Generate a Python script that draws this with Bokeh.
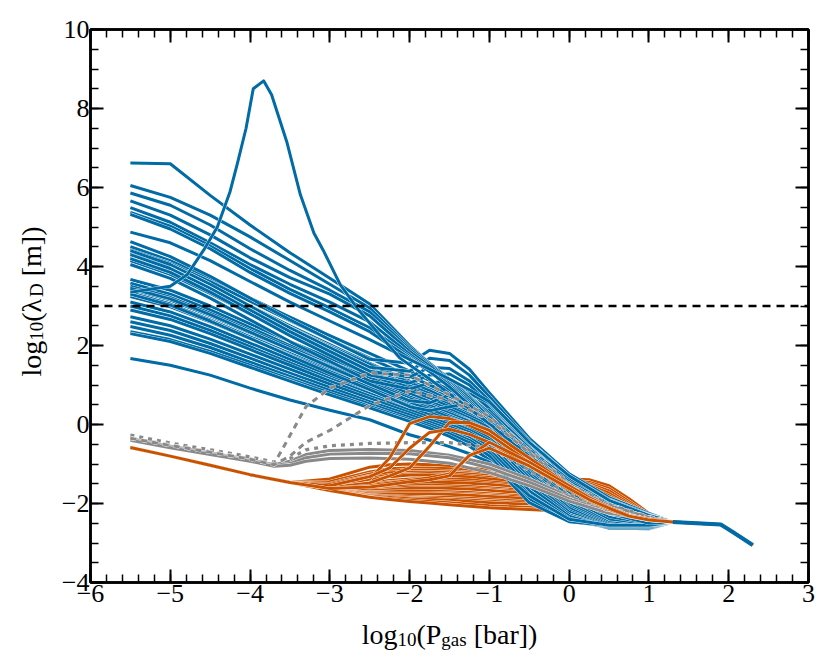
import math
from bokeh.plotting import figure
from bokeh.layouts import row, column
from bokeh.models import (Range1d, SingleIntervalTicker, LinearAxis, Label, Span,
                          CustomJSTickFormatter)
from bokeh.embed import file_html
from bokeh.resources import INLINE

# ---------------- data ----------------
X_TICKS = [-6, -5, -4, -3, -2, -1, 0, 1, 2, 3]
Y_TICKS = [-4, -2, 0, 2, 4, 6, 8, 10]
THRESHOLD = 3.0

# shared high-pressure tail
TAIL_X = [1.3, 1.6, 1.9, 2.05, 2.3]
TAIL_Y = [-2.47, -2.50, -2.53, -2.72, -3.05]

# blue curves sampled on BX
BX = [-5.5, -5.0, -4.5, -4.0, -3.5, -3.0, -2.5, -2.0, -1.75, -1.5, -1.25, -1.0, -0.5, 0.0, 0.5, 1.0]
BLUE_TOP = [
    [6.62, 6.60, 5.80, 5.05, 4.35, 3.70, 3.05, 2.00, 1.55, 1.12, 0.68, 0.25, -0.65, -1.40, -1.95, -2.30],
    [6.05, 5.75, 5.30, 4.75, 4.15, 3.55, 2.95, 1.95, 1.55, 1.15, 0.72, 0.28, -0.70, -1.45, -2.00, -2.35],
    [5.86, 5.55, 5.05, 4.45, 3.90, 3.40, 2.85, 1.90, 1.52, 1.12, 0.70, 0.22, -0.75, -1.50, -2.05, -2.40],
    [5.66, 5.30, 4.80, 4.22, 3.72, 3.30, 2.75, 1.85, 1.48, 1.08, 0.66, 0.18, -0.80, -1.55, -2.10, -2.40],
    [5.49, 5.12, 4.60, 4.05, 3.55, 3.10, 2.60, 1.78, 1.42, 1.04, 0.60, 0.10, -0.85, -1.60, -2.15, -2.45],
    [5.37, 5.02, 4.52, 3.95, 3.42, 2.95, 2.45, 1.72, 1.38, 1.00, 0.55, 0.05, -0.90, -1.65, -2.20, -2.45],
    [5.32, 4.95, 4.45, 3.85, 3.32, 2.85, 2.35, 1.68, 1.34, 0.95, 0.50, 0.00, -0.95, -1.70, -2.25, -2.50],
    [4.87, 4.60, 4.15, 3.62, 3.10, 2.62, 2.15, 1.65, 1.40, 1.15, 0.88, 0.58, -0.45, -1.30, -1.92, -2.30],
]
BLUE_BUMP = [
    [4.63, 4.25, 3.75, 3.20, 2.65, 2.15, 1.65, 1.55, 1.88, 1.80, 1.40, 0.80, -0.35, -1.25, -1.85, -2.25],
    [4.40, 4.05, 3.55, 3.00, 2.45, 1.95, 1.45, 1.35, 1.68, 1.62, 1.25, 0.70, -0.42, -1.30, -1.90, -2.28],
    [4.30, 3.95, 3.45, 2.90, 2.35, 1.85, 1.35, 1.20, 1.45, 1.42, 1.10, 0.60, -0.50, -1.35, -1.95, -2.30],
    [4.20, 3.85, 3.35, 2.80, 2.25, 1.75, 1.25, 1.05, 1.25, 1.28, 1.00, 0.50, -0.55, -1.40, -1.98, -2.32],
    [4.05, 3.70, 3.20, 2.65, 2.10, 1.60, 1.10, 0.90, 1.05, 1.10, 0.85, 0.40, -0.60, -1.45, -2.00, -2.35],
    [3.45, 3.18, 2.78, 2.34, 1.90, 1.46, 1.02, 0.60, 0.55, 0.75, 0.78, 0.55, -0.45, -1.35, -1.95, -2.32],
    [3.30, 3.02, 2.62, 2.18, 1.74, 1.30, 0.88, 0.45, 0.35, 0.45, 0.52, 0.35, -0.60, -1.45, -2.02, -2.35],
]
BLUE_MID = [
    [4.50, 4.15, 3.70, 3.20, 2.72, 2.25, 1.80, 1.35, 1.12, 0.88, 0.62, 0.35, -0.55, -1.38, -1.98, -2.33],
    [4.42, 4.08, 3.62, 3.12, 2.63, 2.15, 1.68, 1.22, 1.00, 0.78, 0.55, 0.28, -0.62, -1.45, -2.02, -2.36],
    [4.35, 4.00, 3.52, 3.00, 2.50, 2.02, 1.55, 1.10, 0.90, 0.68, 0.46, 0.20, -0.70, -1.52, -2.08, -2.40],
    [4.28, 3.92, 3.45, 2.95, 2.46, 1.98, 1.52, 1.06, 0.86, 0.62, 0.38, 0.12, -0.78, -1.60, -2.15, -2.44],
    [4.22, 3.85, 3.38, 2.86, 2.36, 1.88, 1.42, 0.98, 0.78, 0.55, 0.32, 0.05, -0.85, -1.68, -2.22, -2.48],
    [4.15, 3.80, 3.32, 2.80, 2.30, 1.82, 1.36, 0.92, 0.72, 0.50, 0.26, 0.00, -0.92, -1.75, -2.28, -2.50],
    [3.67, 3.40, 3.00, 2.55, 2.10, 1.68, 1.26, 0.85, 0.66, 0.45, 0.22, -0.02, -0.98, -1.82, -2.35, -2.55],
    [3.58, 3.30, 2.90, 2.45, 2.00, 1.58, 1.18, 0.78, 0.58, 0.38, 0.16, -0.08, -1.05, -1.90, -2.42, -2.58],
    [3.50, 3.22, 2.82, 2.38, 1.95, 1.52, 1.10, 0.70, 0.52, 0.32, 0.10, -0.15, -1.12, -1.96, -2.48, -2.60],
    [3.42, 3.15, 2.75, 2.32, 1.90, 1.48, 1.06, 0.66, 0.48, 0.28, 0.08, -0.18, -1.18, -2.02, -2.52, -2.62],
    [3.34, 3.05, 2.65, 2.22, 1.80, 1.38, 0.98, 0.60, 0.42, 0.22, 0.02, -0.22, -1.22, -2.08, -2.55, -2.62],
    [3.24, 2.98, 2.60, 2.18, 1.76, 1.34, 0.94, 0.55, 0.38, 0.18, -0.02, -0.28, -1.28, -2.12, -2.58, -2.63],
    [3.10, 2.85, 2.48, 2.06, 1.65, 1.25, 0.86, 0.48, 0.30, 0.12, -0.08, -0.34, -1.35, -2.18, -2.60, -2.63],
    [3.00, 2.75, 2.38, 1.97, 1.56, 1.16, 0.78, 0.42, 0.25, 0.06, -0.14, -0.40, -1.42, -2.22, -2.62, -2.64],
    [2.90, 2.66, 2.30, 1.90, 1.50, 1.10, 0.72, 0.36, 0.18, 0.00, -0.20, -0.48, -1.50, -2.28, -2.62, -2.64],
    [2.73, 2.50, 2.16, 1.78, 1.40, 1.02, 0.66, 0.30, 0.12, -0.06, -0.26, -0.55, -1.58, -2.32, -2.62, -2.63],
    [2.60, 2.38, 2.05, 1.68, 1.30, 0.94, 0.58, 0.24, 0.06, -0.12, -0.34, -0.64, -1.68, -2.38, -2.62, -2.62],
    [2.48, 2.26, 1.95, 1.58, 1.22, 0.86, 0.52, 0.18, 0.00, -0.18, -0.40, -0.72, -1.78, -2.42, -2.60, -2.60],
    [2.35, 2.15, 1.85, 1.50, 1.15, 0.80, 0.46, 0.12, -0.05, -0.24, -0.46, -0.80, -1.88, -2.45, -2.58, -2.58],
    [2.30, 2.10, 1.80, 1.45, 1.10, 0.75, 0.42, 0.08, -0.10, -0.30, -0.55, -0.90, -1.98, -2.46, -2.56, -2.56],
    [1.67, 1.50, 1.25, 0.92, 0.62, 0.36, 0.12, -0.26, -0.40, -0.56, -0.74, -0.95, -1.80, -2.40, -2.55, -2.55],
]
SPIKE_X = [-5.5, -5.0, -4.79, -4.58, -4.41, -4.25, -4.16, -4.05, -3.96, -3.83, -3.73, -3.54, -3.37,
           -3.2, -3.08, -2.87, -2.66, -2.41, -2.12, -1.75, -1.5, -1.25, -1.0, -0.5, 0.0, 0.5, 1.0]
SPIKE_Y = [3.35, 3.50, 3.79, 4.42, 5.00, 5.90, 6.60, 7.50, 8.50, 8.70, 8.35, 7.16, 5.82,
           4.85, 4.40, 3.54, 2.95, 2.35, 1.68, 1.15, 0.78, 0.40, 0.02, -0.80, -1.52, -2.03, -2.36]

# orange curves: common head, then individual bodies
OX_HEAD = [-5.5, -5.0, -4.5, -4.0, -3.5]
ORANGE_HEAD = [-0.58, -0.80, -1.03, -1.27, -1.47]
OX_BODY = [-3.0, -2.5, -2.25, -2.0, -1.75, -1.5, -1.25, -1.0, -0.5, 0.0, 0.25, 0.5, 0.75, 1.0]
ORANGE_BAND = [
    [-1.38, -1.08, -1.02, -1.00, -1.02, -1.05, -1.10, -1.15, -1.28, -1.38, -1.40, -1.55, -1.88, -2.25],
    [-1.45, -1.20, -1.12, -1.10, -1.10, -1.12, -1.16, -1.22, -1.32, -1.42, -1.46, -1.62, -1.95, -2.28],
    [-1.50, -1.25, -1.18, -1.15, -1.16, -1.18, -1.22, -1.26, -1.36, -1.46, -1.50, -1.68, -2.00, -2.30],
    [-1.52, -1.30, -1.22, -1.20, -1.20, -1.22, -1.25, -1.30, -1.40, -1.49, -1.54, -1.74, -2.04, -2.32],
    [-1.57, -1.36, -1.28, -1.25, -1.24, -1.26, -1.30, -1.34, -1.44, -1.52, -1.58, -1.80, -2.08, -2.34],
    [-1.58, -1.40, -1.32, -1.28, -1.28, -1.30, -1.33, -1.38, -1.47, -1.56, -1.63, -1.85, -2.12, -2.36],
    [-1.60, -1.48, -1.42, -1.38, -1.37, -1.38, -1.40, -1.45, -1.54, -1.62, -1.70, -1.92, -2.18, -2.38],
    [-1.61, -1.52, -1.46, -1.42, -1.42, -1.43, -1.45, -1.49, -1.57, -1.65, -1.75, -1.96, -2.21, -2.39],
    [-1.62, -1.55, -1.50, -1.47, -1.46, -1.47, -1.49, -1.52, -1.60, -1.68, -1.80, -2.02, -2.25, -2.40],
    [-1.63, -1.62, -1.58, -1.55, -1.54, -1.55, -1.57, -1.60, -1.67, -1.75, -1.88, -2.08, -2.30, -2.42],
    [-1.63, -1.65, -1.62, -1.59, -1.58, -1.59, -1.61, -1.64, -1.71, -1.79, -1.92, -2.12, -2.33, -2.43],
    [-1.64, -1.68, -1.65, -1.62, -1.61, -1.62, -1.64, -1.67, -1.74, -1.82, -1.95, -2.15, -2.35, -2.44],
    [-1.65, -1.72, -1.70, -1.69, -1.69, -1.70, -1.72, -1.75, -1.82, -1.90, -2.02, -2.22, -2.40, -2.46],
    [-1.65, -1.74, -1.73, -1.73, -1.73, -1.74, -1.76, -1.79, -1.85, -1.93, -2.05, -2.25, -2.43, -2.47],
    [-1.65, -1.76, -1.76, -1.76, -1.76, -1.77, -1.79, -1.82, -1.88, -1.96, -2.08, -2.28, -2.45, -2.48],
    [-1.66, -1.79, -1.81, -1.83, -1.84, -1.85, -1.87, -1.90, -1.95, -2.02, -2.14, -2.33, -2.48, -2.48],
    [-1.66, -1.80, -1.83, -1.86, -1.87, -1.89, -1.91, -1.94, -1.99, -2.05, -2.17, -2.36, -2.49, -2.48],
    [-1.66, -1.81, -1.85, -1.88, -1.90, -1.92, -1.95, -1.98, -2.02, -2.08, -2.20, -2.38, -2.50, -2.47],
    [-1.67, -1.83, -1.88, -1.92, -1.95, -1.98, -2.02, -2.06, -2.10, -2.15, -2.25, -2.42, -2.52, -2.47],
    [-1.67, -1.84, -1.90, -1.95, -1.99, -2.03, -2.07, -2.11, -2.15, -2.20, -2.30, -2.45, -2.53, -2.46],
]
ORANGE_RISE = [
    [-1.58, -1.38, -0.85, 0.02, 0.20, 0.15, -0.02, -0.25, -0.95, -1.60, -1.90, -2.12, -2.30, -2.40],
    [-1.60, -1.48, -1.30, -1.10, -0.55, 0.05, 0.05, -0.15, -0.85, -1.55, -1.85, -2.10, -2.30, -2.40],
    [-1.55, -1.32, -1.10, -0.60, -0.20, -0.12, -0.25, -0.45, -1.05, -1.65, -1.92, -2.15, -2.33, -2.42],
    [-1.62, -1.55, -1.48, -1.42, -1.35, -1.25, -0.80, -0.45, -0.95, -1.55, -1.85, -2.10, -2.30, -2.40],
    [-1.62, -1.58, -1.52, -1.45, -1.40, -1.30, -0.78, -0.60, -1.05, -1.62, -1.90, -2.12, -2.32, -2.42],
]

# grey curves
GX = [-5.5, -5.0, -4.5, -4.0, -3.7, -3.5, -3.3, -3.0, -2.5, -2.0, -1.5, -1.0, -0.5, 0.0, 0.5, 1.0]
GREY_SOLID = [
    [-0.36, -0.55, -0.72, -0.89, -1.02, -0.93, -0.76, -0.66, -0.63, -0.66, -0.78, -1.00, -1.38, -1.82, -2.20, -2.36],
    [-0.38, -0.57, -0.74, -0.91, -1.04, -0.99, -0.84, -0.75, -0.73, -0.74, -0.84, -1.10, -1.46, -1.88, -2.22, -2.37],
    [-0.40, -0.59, -0.76, -0.93, -1.06, -1.03, -0.93, -0.86, -0.85, -0.88, -0.98, -1.22, -1.55, -1.94, -2.25, -2.38],
]
GREY_DOTTED = [
    [-0.27, -0.47, -0.64, -0.82, -0.95, -0.86, -0.64, -0.54, -0.48, -0.46, -0.46, -0.58, -1.15, -1.78, -2.18, -2.35],
]
GREY_DASHED = [
    [-0.34, -0.52, -0.69, -0.87, -1.00, -0.28, 0.45, 0.92, 1.30, 1.25, 0.75, 0.20, -0.65, -1.50, -2.02, -2.34],
    [-0.35, -0.53, -0.70, -0.88, -1.02, -0.80, -0.45, -0.15, 0.48, 0.85, 0.62, 0.12, -0.72, -1.55, -2.05, -2.35],
]

X_TITLE_PARTS = [("log", "main"), ("10", "sub"), ("(P", "main"), ("gas", "sub"), (" [bar])", "main")]
Y_TITLE_PARTS = [("log", "main"), ("10", "sub"), ("(\u03bb", "main"), ("D", "sub"), (" [m])", "main")]

BLUE = "#006BA4"
ORANGE = "#C85200"
GREY = "#898989"
SERIF = "Liberation Serif"

# ---------------- layout geometry (pixels) ----------------
YT_W = 50            # strip holding the vertical title
MAIN_W, MAIN_H = 772, 612
XT_H = 44            # strip holding the horizontal title
TOTAL_H = MAIN_H + XT_H

# ---------------- main figure ----------------
p = figure(width=MAIN_W, height=MAIN_H, output_backend="svg", toolbar_location=None,
           x_range=Range1d(-6, 3), y_range=Range1d(-4, 10),
           min_border_left=40, min_border_right=14, min_border_top=29, min_border_bottom=30)
p.grid.visible = False
p.background_fill_color = "white"
p.border_fill_color = "white"
p.outline_line_color = "black"
p.outline_line_width = 2.5

LW = 3.0
HALO = 0.7


def draw_curve(xs, ys, color, dash="solid", width=LW):
    xx = list(xs) + TAIL_X
    yy = list(ys) + TAIL_Y
    p.line(xx, yy, line_color="white", line_width=width + HALO, line_dash=dash,
           line_join="round")
    p.line(xx, yy, line_color=color, line_width=width, line_dash=dash, line_join="round")


ox = OX_HEAD + OX_BODY
for body in ORANGE_BAND:
    draw_curve(ox, ORANGE_HEAD + body, ORANGE)
for ys in BLUE_MID:
    draw_curve(BX, ys, BLUE)
for ys in BLUE_BUMP:
    draw_curve(BX, ys, BLUE)
for ys in BLUE_TOP:
    draw_curve(BX, ys, BLUE)
draw_curve(SPIKE_X, SPIKE_Y, BLUE)
for ys in GREY_SOLID:
    draw_curve(GX, ys, GREY)
for ys in GREY_DOTTED:
    draw_curve(GX, ys, GREY, dash="4 5", width=3.3)
for ys in GREY_DASHED:
    draw_curve(GX, ys, GREY, dash="6 5")
for body in ORANGE_RISE:
    draw_curve(ox, ORANGE_HEAD + body, ORANGE)
p.line(TAIL_X, TAIL_Y, line_color=BLUE, line_width=4, line_join="round")

p.add_layout(Span(location=THRESHOLD, dimension="width", line_color="black",
                  line_width=2.5, line_dash="8 6"))


def style_axis(ax, interval, minor, labels=True):
    ax.ticker = SingleIntervalTicker(interval=interval, num_minor_ticks=minor)
    ax.axis_line_color = "black"
    ax.axis_line_width = 2.5
    ax.major_tick_in = 13
    ax.major_tick_out = 0
    ax.minor_tick_in = 8
    ax.minor_tick_out = 0
    ax.major_tick_line_width = 2
    ax.minor_tick_line_width = 1.5
    ax.major_tick_line_color = "black"
    ax.minor_tick_line_color = "black"
    ax.major_label_text_font = SERIF
    ax.major_label_text_font_size = "26px"
    ax.major_label_text_color = "black"
    if not labels:
        ax.formatter = CustomJSTickFormatter(code="return ''")
        ax.major_label_standoff = 0


xa = p.xaxis[0]
ya = p.yaxis[0]
style_axis(xa, 1, 5)
style_axis(ya, 2, 4)
xa.major_label_overrides = {t: str(t).replace("-", "\u2212") for t in X_TICKS}
ya.major_label_overrides = {t: str(t).replace("-", "\u2212") for t in Y_TICKS}
xa.major_label_standoff = 2
ya.major_label_standoff = 1

top = LinearAxis()
right = LinearAxis()
style_axis(top, 1, 5, labels=False)
style_axis(right, 2, 4, labels=False)
p.add_layout(top, "above")
p.add_layout(right, "right")

# ---------------- axis titles (subscripts as smaller, lowered text) ----------------
CW = {'l': .278, 'o': .5, 'g': .5, '1': .5, '0': .5, '(': .333, ')': .333, 'P': .556,
      'a': .444, 's': .389, ' ': .25, '[': .333, ']': .333, 'b': .5, 'r': .333,
      'm': .778, 'D': .722, '\u03bb': .55}
SIZES = {"main": 28, "sub": 19}
DROPS = {"main": 0, "sub": 5}


def text_width(t, size):
    return sum(CW.get(c, .5) for c in t) * size


def strip(width, height):
    f = figure(frame_width=width, frame_height=height, output_backend="svg",
               toolbar_location=None, title=None,
               x_range=Range1d(0, width), y_range=Range1d(height, 0),
               x_axis_location=None, y_axis_location=None,
               min_border=0, min_border_left=0, min_border_right=0,
               min_border_top=0, min_border_bottom=0)
    f.grid.visible = False
    f.outline_line_color = None
    f.background_fill_color = "white"
    f.border_fill_color = "white"
    return f


def place_title(fig, parts, cx, cy, vertical):
    total = sum(text_width(t, SIZES[k]) for t, k in parts)
    pos = 0.0
    for t, k in parts:
        s = SIZES[k]
        lead = len(t) - len(t.lstrip(" "))
        pos += lead * CW[" "] * s
        body = t.lstrip(" ")
        common = dict(text=body, text_font=SERIF, text_font_size=f"{s}px",
                      text_color="black", text_align="left", text_baseline="alphabetic",
                      x_units="canvas", y_units="canvas")
        if vertical:
            lab = Label(x=cx + DROPS[k], y=cy + total / 2 - pos, angle=math.pi / 2, **common)
        else:
            lab = Label(x=cx - total / 2 + pos, y=cy + DROPS[k], **common)
        fig.add_layout(lab)
        pos += text_width(body, s)


ytitle = strip(YT_W, TOTAL_H)
place_title(ytitle, Y_TITLE_PARTS, 30.5, 301, vertical=True)

xtitle = strip(MAIN_W, XT_H)
place_title(xtitle, X_TITLE_PARTS, 449 - YT_W, 634 - MAIN_H, vertical=False)

layout = row(ytitle, column(p, xtitle, spacing=0), spacing=0)
open("out.html", "w").write(file_html(layout, INLINE))
